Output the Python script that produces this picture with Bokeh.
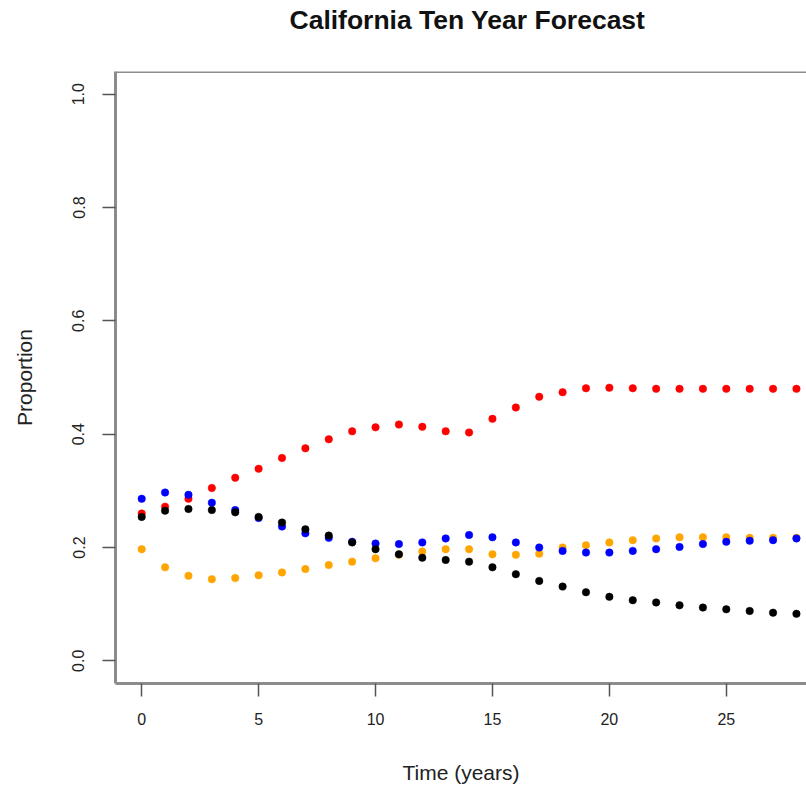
from bokeh.plotting import figure
from bokeh.models import FixedTicker, Span, Range1d, ColumnDataSource, Title
from bokeh.embed import file_html
from bokeh.resources import INLINE

# ---- data ----
time_years = list(range(29))

red_series = [0.260, 0.272, 0.286, 0.305, 0.323, 0.339, 0.358, 0.375, 0.391, 0.405,
              0.412, 0.417, 0.413, 0.405, 0.403, 0.427, 0.447, 0.466, 0.474, 0.481,
              0.482, 0.481, 0.480, 0.480, 0.480, 0.480, 0.480, 0.480, 0.480]
orange_series = [0.197, 0.165, 0.150, 0.144, 0.146, 0.151, 0.156, 0.162, 0.169, 0.175,
                 0.181, 0.187, 0.193, 0.197, 0.197, 0.188, 0.187, 0.189, 0.200, 0.204,
                 0.209, 0.213, 0.216, 0.218, 0.218, 0.218, 0.217, 0.217, 0.217]
blue_series = [0.286, 0.297, 0.293, 0.279, 0.266, 0.252, 0.237, 0.225, 0.217, 0.210,
               0.207, 0.206, 0.209, 0.216, 0.222, 0.218, 0.209, 0.200, 0.194, 0.191,
               0.191, 0.194, 0.197, 0.201, 0.206, 0.210, 0.212, 0.213, 0.216]
black_series = [0.254, 0.265, 0.268, 0.266, 0.262, 0.254, 0.244, 0.232, 0.221, 0.209,
                0.197, 0.188, 0.182, 0.178, 0.175, 0.165, 0.153, 0.141, 0.131, 0.121,
                0.113, 0.107, 0.103, 0.098, 0.094, 0.091, 0.088, 0.085, 0.083]

x_ticks = [0, 5, 10, 15, 20, 25]
y_ticks = [0.0, 0.2, 0.4, 0.6, 0.8, 1.0]
y_tick_labels = ["0.0", "0.2", "0.4", "0.6", "0.8", "1.0"]

title_text = "California Ten Year Forecast"
x_label = "Time (years)"
y_label = "Proportion"

# ---- figure ----
FONT = "Liberation Sans"
BOX = "#8c8c8c"
X0, X1 = -1.12, 28.43
Y0, Y1 = -0.04, 1.04

p = figure(width=806, height=786, output_backend="svg", toolbar_location=None,
           x_range=Range1d(X0, X1), y_range=Range1d(Y0, Y1),
           min_border_left=115, min_border_right=0, min_border_top=71,
           min_border_bottom=103)
p.outline_line_color = None
p.grid.grid_line_color = None
p.background_fill_color = "white"
p.border_fill_color = "white"

# spacer between frame and title, then the title itself
spacer = Title(text=" ", text_font_size="1px", standoff=29)
main_title = Title(text=title_text, text_font=FONT, text_font_size="26.5px",
                   text_font_style="bold", text_color="#111111",
                   align="left", offset=174, vertical_align="top", standoff=6)
p.add_layout(spacer, "above")
p.add_layout(main_title, "above")

for ax in (p.xaxis[0], p.yaxis[0]):
    ax.axis_line_color = BOX
    ax.axis_line_width = 3
    ax.major_tick_line_color = "#555555"
    ax.major_tick_line_width = 1.5
    ax.major_tick_out = 13
    ax.major_tick_in = 0
    ax.minor_tick_line_color = None
    ax.major_label_text_font = FONT
    ax.major_label_text_font_size = "16px"
    ax.major_label_text_color = "#222222"
    ax.axis_label_text_font = FONT
    ax.axis_label_text_font_size = "21px"
    ax.axis_label_text_font_style = "normal"
    ax.axis_label_text_color = "#222222"

p.xaxis[0].ticker = FixedTicker(ticks=x_ticks)
p.xaxis[0].major_label_standoff = 16
p.xaxis[0].axis_label = x_label
p.xaxis[0].axis_label_standoff = 33

p.yaxis[0].ticker = FixedTicker(ticks=y_ticks)
p.yaxis[0].major_label_overrides = {t: s for t, s in zip(y_ticks, y_tick_labels)}
p.yaxis[0].major_label_orientation = "vertical"
p.yaxis[0].major_label_standoff = 18
p.yaxis[0].axis_label = y_label
p.yaxis[0].axis_label_standoff = 34

# top border of the box
p.add_layout(Span(location=Y1, dimension="width", line_color=BOX, line_width=3))

series = [("red", red_series), ("orange", orange_series),
          ("blue", blue_series), ("black", black_series)]
for color, vals in series:
    src = ColumnDataSource(dict(x=time_years, y=vals))
    p.scatter("x", "y", source=src, size=7.5, marker="circle",
              fill_color=color, line_color=color, line_width=0.5)

open("out.html", "w").write(file_html(p, INLINE))
